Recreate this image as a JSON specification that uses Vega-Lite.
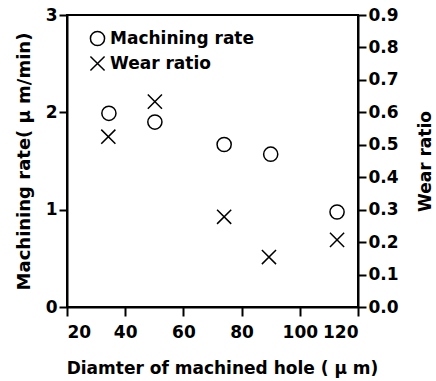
{
  "$schema": "https://vega.github.io/schema/vega-lite/v6.json",
  "width": 291,
  "height": 292,
  "autosize": "none",
  "padding": {"left": 67, "top": 15, "right": 78, "bottom": 74},
  "background": "white",
  "config": {
    "view": {"stroke": "black", "strokeWidth": 2},
    "font": "DejaVu Sans",
    "axis": {
      "grid": false,
      "domainColor": "black",
      "domainWidth": 2,
      "tickColor": "black",
      "tickWidth": 2,
      "tickSize": 8,
      "labelColor": "black",
      "labelFontSize": 17,
      "labelFontWeight": "bold",
      "labelFont": "DejaVu Sans",
      "labelPadding": 2,
      "titleColor": "black",
      "titleFontSize": 17,
      "titleFontWeight": "bold",
      "titleFont": "DejaVu Sans"
    }
  },
  "data": {
    "values": [
      {"series": "Machining rate", "d": 34.4, "v": 1.99},
      {"series": "Machining rate", "d": 50.2, "v": 1.9},
      {"series": "Machining rate", "d": 74, "v": 1.67},
      {"series": "Machining rate", "d": 90, "v": 1.57},
      {"series": "Machining rate", "d": 112.8, "v": 0.976},
      {"series": "Wear ratio", "d": 34.2, "v": 0.525},
      {"series": "Wear ratio", "d": 50.2, "v": 0.633},
      {"series": "Wear ratio", "d": 74, "v": 0.278},
      {"series": "Wear ratio", "d": 89.4, "v": 0.154},
      {"series": "Wear ratio", "d": 112.8, "v": 0.207}
    ]
  },
  "encoding": {
    "x": {
      "field": "d",
      "type": "quantitative",
      "scale": {"domain": [20, 120], "nice": false, "zero": false},
      "axis": {"values": [20, 40, 60, 80, 100, 120], "title": "Diamter of machined hole ( μ m)", "titleFontSize": 17, "tickSize": 9, "labelPadding": 8, "titleX": 155, "titleY": 61, "titleAlign": "center", "titleBaseline": "middle"}
    },
    "shape": {
      "field": "series",
      "type": "nominal",
      "scale": {"domain": ["Machining rate", "Wear ratio"], "range": ["circle", "M-1,-1L1,1M-1,1L1,-1"]},
      "legend": {
        "title": null,
        "orient": "none",
        "legendX": 22,
        "legendY": 15,
        "padding": 0,
        "labelFontSize": 17,
        "labelFontWeight": "bold",
        "labelColor": "black",
        "labelFont": "DejaVu Sans",
        "labelOffset": 4,
        "symbolSize": 200,
        "symbolStrokeColor": "black",
        "symbolStrokeWidth": 1.5,
        "symbolFillColor": "transparent",
        "rowPadding": 4
      }
    }
  },
  "layer": [
    {
      "transform": [{"filter": "datum.series === 'Machining rate'"}],
      "mark": {"type": "point", "filled": false, "stroke": "black", "strokeWidth": 1.5, "size": 200, "opacity": 1},
      "encoding": {
        "y": {
          "field": "v",
          "type": "quantitative",
          "scale": {"domain": [0, 3], "nice": false},
          "axis": {"values": [0, 1, 2, 3], "title": "Machining rate( μ m/min)", "titleFontSize": 18, "titlePadding": 12}
        }
      }
    },
    {
      "transform": [{"filter": "datum.series === 'Wear ratio'"}],
      "mark": {"type": "point", "filled": false, "stroke": "black", "strokeWidth": 1.5, "size": 200, "opacity": 1},
      "encoding": {
        "y": {
          "field": "v",
          "type": "quantitative",
          "scale": {"domain": [0, 0.9], "nice": false},
          "axis": {"orient": "right", "values": [0, 0.1, 0.2, 0.3, 0.4, 0.5, 0.6, 0.7, 0.8, 0.9], "format": ".1f", "title": "Wear ratio", "titleAngle": 270, "titleX": 67, "titleY": 146, "titleAlign": "center", "titleBaseline": "middle"}
        }
      }
    }
  ],
  "resolve": {"scale": {"y": "independent"}}
}
